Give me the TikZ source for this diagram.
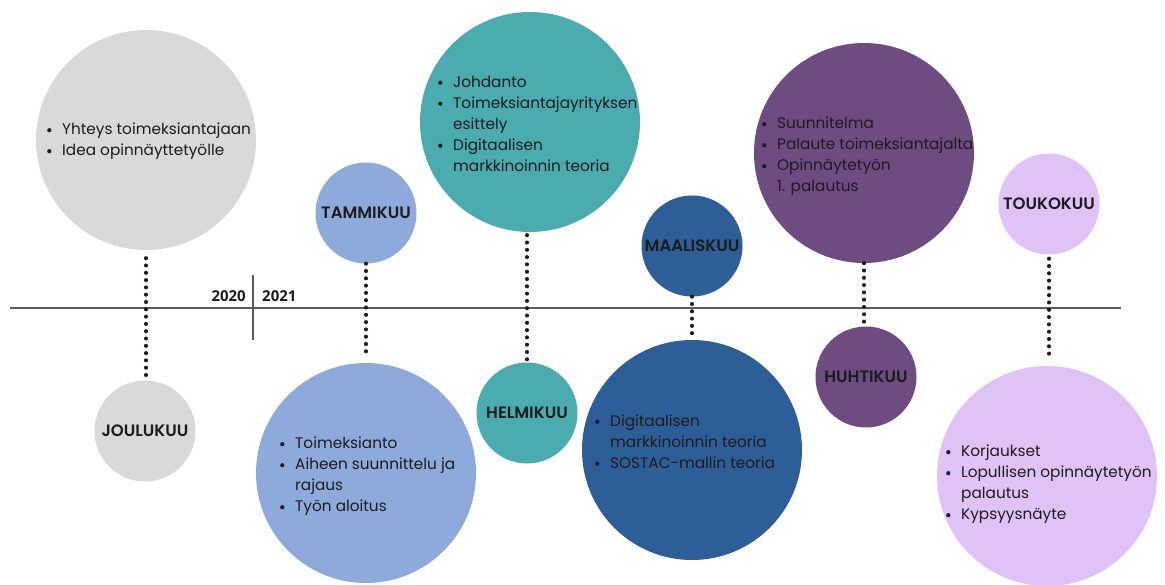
\documentclass[tikz,border=0pt]{standalone}
\usepackage{fontspec}
\setmainfont{Poppins}
\newfontfamily\monthfont{Poppins SemiBold}
\newfontfamily\yearfont{Open Sans}
\usetikzlibrary{calc}

\definecolor{decgrey}{HTML}{D9D9D9}
\definecolor{janblue}{HTML}{8EAADB}
\definecolor{febteal}{HTML}{4AACAE}
\definecolor{marblue}{HTML}{2E5E97}
\definecolor{aprpurple}{HTML}{6E4B81}
\definecolor{maylilac}{HTML}{E0C3F6}
\definecolor{ink}{HTML}{1C1C1C}
\definecolor{axis}{HTML}{5A5A5A}

% round list marker followed by the indent of the item text
\newcommand{\bul}{\makebox[15pt][l]{\raisebox{2.4pt}{\tikz\fill[ink] (0,0) circle (2.1pt);}}}

\tikzset{
  bigdisc/.style={circle, minimum size=220pt, inner sep=0pt},
  monthdisc/.style={circle, minimum size=101pt, inner sep=0pt, text=ink,
    font=\monthfont\fontsize{16.5}{18}\selectfont},
  items/.style={anchor=west, inner sep=0pt, text=ink,
    font=\fontsize{15.3}{21}\selectfont},
  dots/.style={line width=4.1pt, dash pattern=on 0pt off 7.3pt, line cap=round, ink},
  timeline/.style={line width=1.4pt, axis},
  divider/.style={line width=1.2pt, axis},
  year/.style={inner sep=0pt, text=ink, font=\yearfont\bfseries\fontsize{15}{17}\selectfont},
}

\begin{document}
\begin{tikzpicture}[x=1pt, y=-1pt]
  \useasboundingbox (0,0) rectangle (1165,585);

  % time axis and year change
  \coordinate (tl-start) at (10,308);
  \coordinate (tl-end) at (1121,308);
  \draw[timeline] (tl-start) -- (tl-end);
  \coordinate (yr-top) at (253,275);
  \coordinate (yr-bot) at (253,340);
  \draw[divider] (yr-top) -- (yr-bot);
  \node[year, anchor=east] (y2020) at (246,296) {2020};
  \node[year, anchor=west] (y2021) at (262,296) {2021};

  % December
  \node[bigdisc, fill=decgrey] (dec-big) at (146,140) {};
  \node[monthdisc, fill=decgrey] (dec) at (145,431) {JOULUKUU};
  \node[items] (dec-txt) at (47,141) {\begin{tabular}{@{}l@{}l@{}}
    \bul & Yhteys toimeksiantajaan\\
    \bul & Idea opinnäyttetyölle
  \end{tabular}};
  \draw[dots, shorten <=8pt] (dec-big.south) -- (dec-big.south |- dec.north);

  % January
  \node[monthdisc, fill=janblue] (jan) at (366,213) {TAMMIKUU};
  \node[bigdisc, fill=janblue] (jan-big) at (366,473) {};
  \node[items] (jan-txt) at (280,476) {\begin{tabular}{@{}l@{}l@{}}
    \bul & Toimeksianto\\
    \bul & Aiheen suunnittelu ja\\
         & rajaus\\
    \bul & Työn aloitus
  \end{tabular}};
  \draw[dots, shorten >=6pt] (jan.south) -- (jan-big.north);

  % February
  \node[bigdisc, fill=febteal] (feb-big) at (530,122) {};
  \node[monthdisc, fill=febteal] (feb) at (527,413) {HELMIKUU};
  \node[items] (feb-txt) at (438,125) {\begin{tabular}{@{}l@{}l@{}}
    \bul & Johdanto\\
    \bul & Toimeksiantajayrityksen\\
         & esittely\\
    \bul & Digitaalisen\\
         & markkinoinnin teoria
  \end{tabular}};
  \draw[dots, shorten <=3pt, shorten >=2pt] (feb.north |- feb-big.south) -- (feb.north);

  % March
  \node[monthdisc, fill=marblue] (mar) at (692,246) {MAALISKUU};
  \node[bigdisc, fill=marblue] (mar-big) at (692,450) {};
  \node[items] (mar-txt) at (595,443) {\begin{tabular}{@{}l@{}l@{}}
    \bul & Digitaalisen\\
         & markkinoinnin teoria\\
    \bul & SOSTAC-mallin teoria
  \end{tabular}};
  \draw[dots] (mar.south) -- (mar-big.north);

  % April
  \node[bigdisc, fill=aprpurple] (apr-big) at (864,153) {};
  \node[monthdisc, fill=aprpurple] (apr) at (866,377) {HUHTIKUU};
  \node[items] (apr-txt) at (762,156) {\begin{tabular}{@{}l@{}l@{}}
    \bul & Suunnitelma\\
    \bul & Palaute toimeksiantajalta\\
    \bul & Opinnäytetyön\\
         & 1. palautus
  \end{tabular}};
  \draw[dots] (apr-big.south) -- (apr-big.south |- apr.north);

  % May
  \node[monthdisc, fill=maylilac] (may) at (1049,204) {TOUKOKUU};
  \node[bigdisc, fill=maylilac] (may-big) at (1047,476) {};
  \node[items] (may-txt) at (946,484) {\begin{tabular}{@{}l@{}l@{}}
    \bul & Korjaukset\\
    \bul & Lopullisen opinnäytetyön\\
         & palautus\\
    \bul & Kypsyysnäyte
  \end{tabular}};
  \draw[dots, shorten <=4pt, shorten >=6pt] (may.south) -- (may.south |- may-big.north);
\end{tikzpicture}
\end{document}
